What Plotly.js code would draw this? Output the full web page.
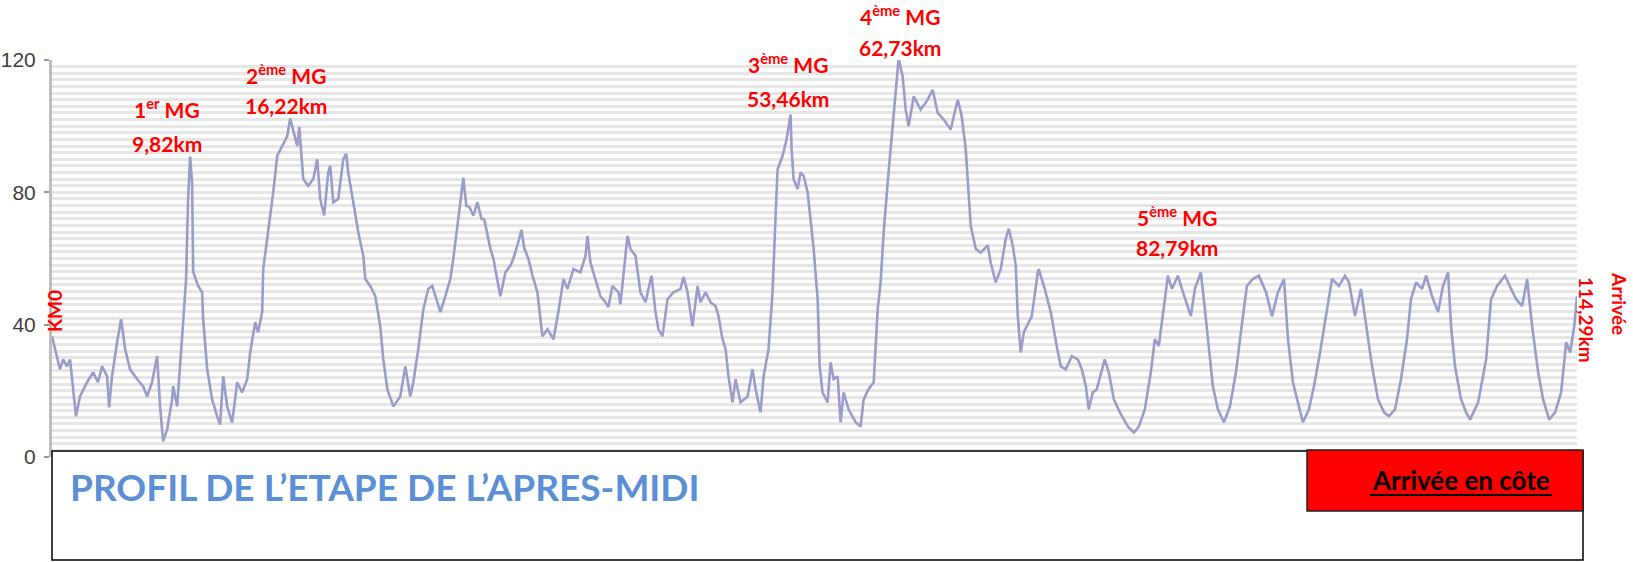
<!DOCTYPE html>
<html>
<head>
<meta charset="utf-8">
<script src="https://cdn.plot.ly/plotly-3.0.1.min.js"></script>
<style>
html,body{margin:0;padding:0;background:#fff;}
#chart{width:1633px;height:562px;}
</style>
</head>
<body>
<div id="chart"></div>
<script>
// Distance along the stage (km)
const distanceKm = [
0.00,0.23,0.60,0.83,1.13,1.35,1.58,1.80,2.10,2.63,3.08,3.45,3.75,4.13,4.28,4.50,4.88,5.18,5.48,5.85,
6.38,6.83,7.13,7.50,7.88,8.10,8.33,8.63,9.00,9.08,9.38,9.60,9.83,10.05,10.20,10.35,10.50,10.58,10.95,11.25,
11.33,11.63,12.00,12.38,12.60,12.83,13.13,13.50,13.88,14.25,14.63,14.85,15.23,15.45,15.75,15.83,16.05,16.35,16.58,16.88,
17.25,17.63,17.85,18.08,18.38,18.53,18.75,18.83,19.20,19.58,19.88,20.10,20.40,20.70,20.85,21.08,21.45,21.83,22.05,22.20,
22.58,22.95,23.33,23.48,23.85,24.23,24.60,24.83,25.13,25.58,26.10,26.48,26.85,27.08,27.45,27.83,28.20,28.50,28.88,29.10,
29.48,29.85,30.08,30.45,30.83,31.05,31.28,31.58,31.88,32.18,32.40,32.85,33.08,33.60,33.98,34.35,34.58,34.88,35.18,35.40,
35.70,36.00,36.38,36.75,37.13,37.58,37.95,38.33,38.63,39.08,39.60,39.98,40.13,40.35,40.73,41.10,41.48,41.70,42.00,42.45,
42.60,42.83,43.13,43.35,43.73,44.10,44.48,44.70,44.93,45.23,45.45,45.75,46.13,46.58,47.10,47.33,47.63,48.00,48.38,48.60,
48.98,49.35,49.73,49.95,50.25,50.48,50.70,51.00,51.23,51.60,52.13,52.50,52.73,53.10,53.33,53.70,54.00,54.23,54.38,54.75,
55.05,55.35,55.43,55.58,55.88,56.10,56.33,56.63,56.85,57.08,57.38,57.53,57.75,58.13,58.35,58.58,58.88,59.10,59.33,59.70,
60.23,60.60,60.83,61.20,61.58,61.88,62.10,62.33,62.63,62.85,63.00,63.15,63.45,63.75,63.98,64.20,64.58,65.10,65.63,66.00,
66.38,66.83,67.35,67.88,68.18,68.48,68.63,68.85,69.23,69.60,70.13,70.35,70.73,71.10,71.48,71.70,72.00,72.23,72.38,72.60,
72.83,73.43,73.88,73.95,74.40,74.85,75.30,75.60,75.98,76.43,76.88,77.18,77.48,77.70,78.00,78.30,78.90,79.20,79.58,80.03,
80.63,81.08,81.45,81.90,82.35,82.65,82.95,83.25,83.63,83.93,84.38,84.68,85.13,85.35,85.65,86.10,86.40,86.70,87.00,87.38,
87.83,88.28,88.73,89.10,89.55,90.00,90.45,90.98,91.43,91.88,92.33,92.63,93.00,93.45,93.75,94.20,94.58,95.03,95.48,95.93,
96.45,96.90,97.20,97.65,98.10,98.48,98.93,99.38,99.83,100.20,100.65,101.10,101.55,101.85,102.23,102.68,102.98,103.43,103.88,104.25,
104.63,104.85,105.15,105.60,105.98,106.28,106.88,107.48,107.85,108.30,108.90,109.35,109.73,110.18,110.55,110.93,111.38,111.75,112.20,112.65,
113.10,113.48,113.78,114.08,114.29
];
// Elevation profile values
const elevation = [
36.5,32.6,26.5,29.5,27.4,29.5,19.5,12.3,18.3,22.6,25.6,22.6,27.4,24.4,15.0,24.4,34.7,41.7,32.6,26.5,
23.5,21.4,18.3,22.6,30.5,15.3,4.7,8.3,17.4,21.4,15.3,29.5,40.8,53.8,78.0,90.8,83.0,56.0,51.7,49.8,
41.7,26.5,17.4,12.3,9.8,24.4,15.3,10.4,22.6,19.5,23.5,31.5,40.8,37.7,43.8,56.8,63.8,72.0,80.0,91.0,
93.8,97.0,102.3,98.3,94.0,99.8,90.0,84.0,82.0,84.0,90.0,78.0,73.0,86.0,88.0,77.0,78.0,90.0,91.7,86.0,
77.0,68.0,60.8,53.8,51.7,48.6,39.5,29.5,20.5,15.3,18.3,27.4,18.3,22.6,32.6,44.7,50.8,51.7,46.8,43.8,
48.6,53.8,60.0,72.0,84.4,76.0,75.5,73.0,77.0,72.0,71.7,63.0,60.0,48.6,55.8,57.8,60.0,64.0,68.6,63.0,
60.0,55.0,49.8,36.5,38.6,35.6,43.8,53.8,50.8,56.8,55.8,60.8,66.8,58.8,53.8,48.6,46.8,45.3,51.7,49.8,
46.2,54.8,66.8,62.9,60.8,49.8,46.8,50.8,54.8,43.8,38.6,36.5,47.7,49.8,50.8,54.4,49.8,39.5,51.7,46.8,
49.8,46.8,45.6,42.6,35.6,32.6,24.4,16.5,23.5,16.5,18.3,26.5,20.5,13.5,24.4,32.6,49.8,73.0,87.0,91.0,
96.0,103.5,93.0,84.0,81.0,86.0,85.0,80.0,71.0,62.9,47.7,27.4,19.5,16.5,28.6,23.5,24.4,10.5,19.5,14.4,
10.5,9.2,17.4,20.5,22.6,44.7,52.8,68.0,83.0,93.0,100.0,109.0,120.5,115.0,105.0,100.0,109.0,105.0,108.0,111.0,
104.0,102.0,99.0,108.0,103.0,93.0,84.0,70.0,62.9,61.8,64.0,58.8,52.8,56.8,66.0,69.0,64.0,57.7,42.6,31.6,
37.7,42.6,55.8,56.8,50.8,43.8,33.5,27.4,26.5,30.5,29.5,26.5,21.4,14.4,19.5,20.5,29.5,25.6,17.4,13.5,
9.2,7.4,9.2,14.4,25.6,35.6,33.5,42.6,54.8,50.8,54.8,50.8,45.6,42.6,50.8,55.8,44.7,33.5,21.4,14.4,
10.5,15.3,25.6,37.7,51.7,53.8,54.8,49.8,42.6,49.8,53.8,35.6,22.6,15.3,10.5,14.4,21.4,31.6,42.6,53.8,
51.7,54.8,52.8,42.6,50.8,39.5,27.4,17.4,13.5,12.3,14.4,23.5,35.6,47.7,52.8,50.8,54.8,48.6,43.8,51.7,
55.8,39.5,27.4,17.4,13.5,11.3,16.5,29.5,47.7,51.7,54.8,50.8,47.7,45.6,53.8,39.5,25.6,17.4,11.3,13.5,
19.5,34.7,31.6,39.5,48.6
];
const yTickValues = [0, 40, 80, 120];
const yTickLabels = ['0', '40', '80', '120'];
const summitLabels = ['1<sup>er</sup> MG', '2<sup>ème</sup> MG', '3<sup>ème</sup> MG', '4<sup>ème</sup> MG', '5<sup>ème</sup> MG'];
const summitKm = ['9,82km', '16,22km', '53,46km', '62,73km', '82,79km'];
const chartTitle = 'PROFIL DE L’ETAPE DE L’APRES-MIDI';
const startLabel = 'KM0';
const finishKm = '114,29km';
const finishLabel = 'Arrivée';
const finishType = 'Arrivée en côte';

// layout geometry (pixels)
const W = 1633, H = 562;
const L = 52, R = 1577, T = 60, B = 457;
const px = x => (x - L) / (R - L);
const py = y => (B - y) / (B - T);

const red = '#ff0000';
const fontA = 'Lato, "Open Sans", sans-serif';

const labelPos = [[167,108,143],[286,74,106],[788,63,98],[900,15,47],[1177,216,248]];
const annotations = [];
summitLabels.forEach((t, i) => {
  const p = labelPos[i];
  annotations.push({xref:'paper', yref:'paper', x:px(p[0]), y:py(p[1]), text:'<b>'+t+'</b>', showarrow:false,
    xanchor:'center', yanchor:'middle', font:{family:fontA, size:21, color:red}});
  annotations.push({xref:'paper', yref:'paper', x:px(p[0]), y:py(p[2]), text:'<b>'+summitKm[i]+'</b>', showarrow:false,
    xanchor:'center', yanchor:'middle', font:{family:fontA, size:21, color:red}});
});
annotations.push({xref:'paper', yref:'paper', x:px(54), y:py(311), text:'<b>'+startLabel+'</b>', textangle:-90, showarrow:false,
  xanchor:'center', yanchor:'middle', font:{family:fontA, size:19, color:red}});
annotations.push({xref:'paper', yref:'paper', x:px(1587), y:py(320), text:'<b>'+finishKm+'</b>', textangle:90, showarrow:false,
  xanchor:'center', yanchor:'middle', font:{family:fontA, size:19, color:red}});
annotations.push({xref:'paper', yref:'paper', x:px(1620), y:py(304), text:'<b>'+finishLabel+'</b>', textangle:90, showarrow:false,
  xanchor:'center', yanchor:'middle', font:{family:fontA, size:19, color:red}});
annotations.push({xref:'paper', yref:'paper', x:px(68), y:py(487), text:'<b>'+chartTitle+'</b>', showarrow:false,
  xanchor:'left', yanchor:'middle', font:{family:fontA, size:37, color:'#5b8fd6'}});
annotations.push({xref:'paper', yref:'paper', x:px(1461), y:py(480), text:'<b>'+finishType+'</b>', showarrow:false,
  xanchor:'center', yanchor:'middle', font:{family:fontA, size:26, color:'#000'}});

const shapes = [
  {type:'rect', xref:'paper', yref:'paper', x0:px(52), x1:px(1583), y0:py(451), y1:py(560), layer:'above',
   fillcolor:'#ffffff', line:{color:'#000', width:1.5}},
  {type:'rect', xref:'paper', yref:'paper', x0:px(1307), x1:px(1583), y0:py(450), y1:py(511), layer:'above',
   fillcolor:'#ff0000', line:{color:'#222', width:1.5}},
  {type:'line', xref:'paper', yref:'paper', x0:px(1370), x1:px(1552), y0:py(495), y1:py(495), layer:'above',
   line:{color:'#000', width:1.8}}
];

const trace = {
  x: distanceKm, y: elevation, type:'scatter', mode:'lines',
  line:{color:'#9a9cca', width:2.6}, cliponaxis:false, hoverinfo:'skip'
};

const layout = {
  width:W, height:H,
  margin:{l:L, r:W-R, t:T, b:H-B, pad:0},
  paper_bgcolor:'#ffffff', plot_bgcolor:'#ffffff',
  showlegend:false,
  xaxis:{range:[0,114.29], showgrid:false, zeroline:false, showticklabels:false, ticks:'', showline:false, fixedrange:true},
  yaxis:{range:[0,120], tickmode:'array', tickvals:yTickValues, ticktext:yTickLabels,
    showgrid:true, gridcolor:'#e6e6e6', gridwidth:3, zeroline:false,
    minor:{tickmode:'linear', tick0:0, dtick:2, showgrid:true, gridcolor:'#e6e6e6', gridwidth:3, ticks:''},
    showline:true, linecolor:'#bdbdbd', linewidth:3, ticks:'outside', ticklen:5, tickcolor:'#999', tickwidth:2,
    tickfont:{family:'"Liberation Sans", Arial, sans-serif', size:21, color:'#404040'}, ticklabelstandoff:4},
  annotations:annotations,
  shapes:shapes
};

Plotly.newPlot('chart', [trace], layout, {displayModeBar:false, staticPlot:true});
</script>
</body>
</html>
